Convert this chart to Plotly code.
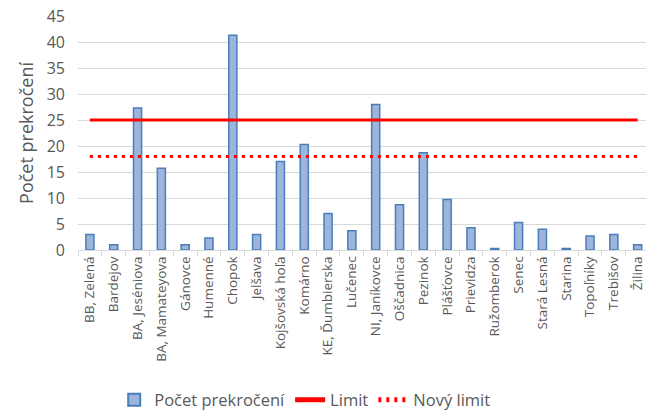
import plotly.graph_objects as go

categories = ["BB, Zelená", "Bardejov", "BA, Jeséniova", "BA, Mamateyova", "Gánovce",
              "Humenné", "Chopok", "Jelšava", "Kojšovská hoľa", "Komárno",
              "KE, Ďumbierska", "Lučenec", "NI, Janíkovce", "Oščadnica", "Pezinok",
              "Plášťovce", "Prievidza", "Ružomberok", "Senec", "Stará Lesná",
              "Starina", "Topoľníky", "Trebišov", "Žilina"]
exceedances = [3, 1, 27.3, 15.7, 1, 2.3, 41.3, 3, 17, 20.3, 7, 3.7, 28, 8.7, 18.7,
               9.7, 4.3, 0.3, 5.3, 4, 0.3, 2.7, 3, 1]
limit_value = 25
new_limit_value = 18
y_ticks = [0, 5, 10, 15, 20, 25, 30, 35, 40, 45]

grey = "#595959"
font_family = "Open Sans, DejaVu Sans, sans-serif"

fig = go.Figure()
fig.add_trace(go.Bar(
    x=categories, y=exceedances, name="Počet prekročení",
    marker=dict(color="#9db5da", line=dict(color="#4a7ebb", width=1.5)),
))
fig.add_trace(go.Scatter(
    x=categories, y=[limit_value] * len(categories), name="Limit",
    mode="lines", line=dict(color="#ff0000", width=3),
))
fig.add_trace(go.Scatter(
    x=categories, y=[new_limit_value] * len(categories), name="Nový limit",
    mode="lines", line=dict(color="#ff0000", width=3, dash="3px,5px"),
))

fig.update_layout(
    width=646, height=414,
    margin=dict(l=78, r=0, t=16, b=164, autoexpand=False),
    paper_bgcolor="white", plot_bgcolor="white",
    font=dict(family=font_family, color=grey),
    bargap=0.66,
    showlegend=True,
    legend=dict(orientation="h", xref="paper", yref="paper",
                x=0.40, xanchor="center", y=-0.641, yanchor="middle",
                font=dict(size=16.5, color=grey),
                traceorder="normal", itemsizing="constant"),
    xaxis=dict(
        type="category", range=[-0.5, 23.35], automargin=False,
        tickangle=-90, tickfont=dict(size=13.5, color=grey),
        showgrid=False, showline=True, linecolor="#d9d9d9", linewidth=1,
        ticks="outside", tickson="boundaries", ticklen=5, tickcolor="#d9d9d9",
    ),
    yaxis=dict(
        range=[0, 45], tickvals=y_ticks, tickfont=dict(size=16, color=grey),
        automargin=False, ticklabelstandoff=12,
        showgrid=True, gridcolor="#d9d9d9", gridwidth=1,
        zeroline=False, showline=False,
        title=dict(text="Počet prekročení", font=dict(size=18, color=grey), standoff=8),
    ),
)

fig.write_html(
    "out.html",
    config={"displayModeBar": False},
    post_script="document.body.style.margin='0';document.body.style.overflow='hidden';",
)
